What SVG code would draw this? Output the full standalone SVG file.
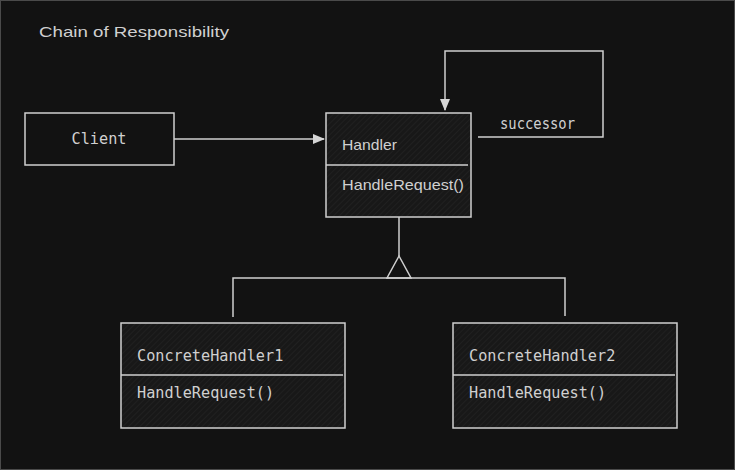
<svg xmlns="http://www.w3.org/2000/svg" width="735" height="470" viewBox="0 0 735 470">
<defs>
<pattern id="hatch" width="4" height="4" patternUnits="userSpaceOnUse" patternTransform="rotate(45)">
<rect width="4" height="4" fill="#181818"/>
<line x1="0" y1="0" x2="0" y2="4" stroke="#222" stroke-width="1.5"/>
</pattern>
<marker id="arr" markerWidth="12" markerHeight="10" refX="11" refY="5" orient="auto" markerUnits="userSpaceOnUse">
<path d="M0,0 L12,5 L0,10 Z" fill="#d6d6d6"/>
</marker>
</defs>
<style>
.box{fill:url(#hatch);stroke:#cfcfcf;stroke-width:1.5}
.plain{fill:none;stroke:#cfcfcf;stroke-width:1.5}
.ln{fill:none;stroke:#cfcfcf;stroke-width:1.5}
.mono{font-family:"DejaVu Sans Mono","Liberation Mono",monospace;font-size:15.2px;fill:#d0d0d0}
.hand{font-family:"Liberation Sans","DejaVu Sans",sans-serif;font-size:15px;fill:#d0d0d0}
</style>
<rect x="0" y="0" width="735" height="470" fill="#121212"/>
<rect x="0.5" y="0.5" width="734" height="469" fill="none" stroke="#4a4a4a" stroke-width="1"/>
<text x="39" y="37" class="hand" font-size="16" textLength="190" lengthAdjust="spacingAndGlyphs">Chain of Responsibility</text>

<g id="connectors">
<line class="ln" x1="174" y1="139" x2="324" y2="139" marker-end="url(#arr)"/>
<polyline class="ln" points="478,137 603,137 603,51 445,51 445,110" marker-end="url(#arr)"/>
<line class="ln" x1="399" y1="217" x2="399" y2="256"/>
<polygon class="ln" points="399,256 387,278 411,278"/>
<polyline class="ln" points="233,317 233,278 565,278 565,316"/>
<text x="500" y="129" class="mono" font-size="13.6" textLength="75" lengthAdjust="spacingAndGlyphs">successor</text>
</g>

<g id="client">
<rect class="plain" x="25" y="113" width="149" height="52"/>
<text x="99" y="144" class="mono" text-anchor="middle">Client</text>
</g>

<g id="handler">
<rect class="box" x="326" y="113" width="145" height="104"/>
<line class="ln" x1="326" y1="165" x2="468" y2="165"/>
<text x="342" y="150" class="hand" textLength="55" lengthAdjust="spacingAndGlyphs">Handler</text>
<text x="342" y="190" class="hand" textLength="122" lengthAdjust="spacingAndGlyphs">HandleRequest()</text>
</g>

<g id="concrete1">
<rect class="box" x="121" y="323" width="224" height="105"/>
<line class="ln" x1="121" y1="375" x2="343" y2="375"/>
<text x="137" y="361" class="mono">ConcreteHandler1</text>
<text x="137" y="398" class="mono">HandleRequest()</text>
</g>

<g id="concrete2">
<rect class="box" x="453" y="323" width="224" height="105"/>
<line class="ln" x1="453" y1="375" x2="675" y2="375"/>
<text x="469" y="361" class="mono">ConcreteHandler2</text>
<text x="469" y="398" class="mono">HandleRequest()</text>
</g>
</svg>
